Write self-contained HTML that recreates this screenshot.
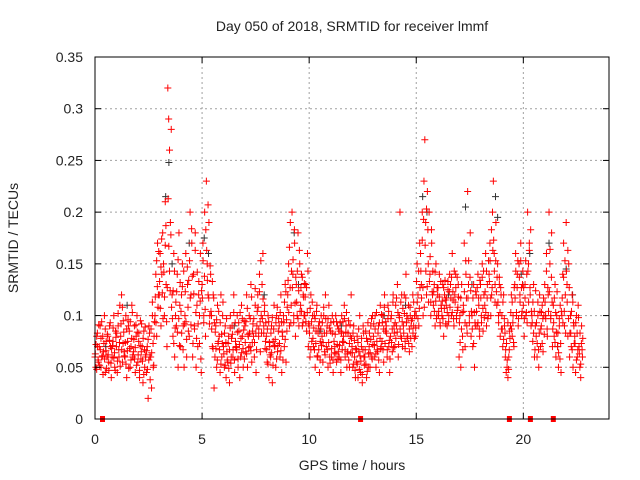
<!DOCTYPE html>
<html><head><meta charset="utf-8"><style>
html,body{margin:0;padding:0;background:#fff}
svg{display:block;font-family:"Liberation Sans",sans-serif}
</style></head><body>
<svg id="chart" width="640" height="480">
<text x="352" y="31" text-anchor="middle" font-size="14" fill="#222">Day 050 of 2018, SRMTID for receiver lmmf</text>
<text x="352" y="470" text-anchor="middle" font-size="14" fill="#222">GPS time / hours</text>
<text transform="translate(18,238) rotate(-90)" text-anchor="middle" font-size="14" fill="#222">SRMTID / TECUs</text>
<g id="grid"></g><g id="black"></g><g id="red"></g><g id="axes"></g>
</svg>
<script>
const xTicks=[0,5,10,15,20];
const yTicks=[0,0.05,0.1,0.15,0.2,0.25,0.3,0.35];
const yTickLabels=["0","0.05","0.1","0.15","0.2","0.25","0.3","0.35"];
const stepStarts=[];for(let i=0;i<114;i++)stepStarts.push(+(i*0.2).toFixed(1));
const redVals=[
[.06,.05,.08,.07,.055],[.07,.09,.05,.06,.08],[.065,.1,.045,.075,.06],[.08,.055,.09,.07,.04],[.06,.075,.1,.05,.085],
[.07,.045,.09,.06,.11],[.08,.12,.055,.095,.065],[.06,.1,.04,.075,.09],[.085,.05,.07,.11,.06],[.065,.09,.045,.08,.1],
[.055,.075,.04,.095,.065],[.07,.035,.085,.05,.06],[.045,.07,.02,.09,.06],[.06,.03,.1,.05,.08],[.1,.14,.08,.17,.12],
[.12,.16,.09,.14,.18],[.15,.1,.21,.13,.07],[.32,.29,.26,.19,.28],[.12,.08,.16,.06,.1],[.09,.14,.05,.18,.11],
[.07,.12,.15,.09,.05],[.1,.16,.06,.13,.085],[.08,.2,.12,.17,.06],[.14,.09,.18,.05,.11],[.07,.12,.1,.16,.045],
[.13,.17,.1,.2,.08],[.23,.15,.12,.19,.1],[.14,.1,.07,.12,.03],[.06,.09,.05,.11,.075],[.08,.045,.12,.06,.1],
[.07,.05,.09,.04,.065],[.055,.08,.035,.1,.06],[.09,.06,.12,.045,.075],[.07,.1,.05,.085,.04],[.06,.11,.08,.05,.095],
[.09,.065,.12,.05,.08],[.1,.07,.13,.055,.085],[.08,.06,.11,.045,.09],[.12,.08,.14,.065,.1],[.13,.16,.09,.11,.075],
[.08,.055,.1,.04,.07],[.06,.09,.035,.075,.11],[.07,.05,.1,.065,.085],[.09,.06,.12,.045,.08],[.1,.07,.13,.055,.085],
[.12,.15,.09,.19,.11],[.2,.14,.1,.17,.08],[.13,.1,.18,.09,.15],[.11,.14,.09,.12,.1],[.1,.13,.085,.16,.07],
[.09,.06,.12,.075,.1],[.07,.1,.05,.085,.11],[.06,.09,.045,.075,.1],[.08,.055,.1,.065,.12],[.07,.09,.05,.11,.06],
[.085,.06,.1,.045,.075],[.07,.1,.055,.09,.065],[.06,.085,.045,.1,.075],[.08,.11,.06,.09,.05],[.065,.095,.05,.08,.12],
[.07,.05,.09,.06,.04],[.055,.08,.04,.065,.1],[.045,.07,.035,.09,.06],[.06,.085,.04,.075,.05],[.07,.05,.09,.06,.1],
[.08,.06,.1,.05,.075],[.065,.09,.045,.11,.07],[.075,.1,.055,.12,.085],[.09,.06,.11,.07,.045],[.08,.1,.065,.12,.09],
[.07,.11,.09,.13,.06],[.1,.2,.08,.12,.07],[.09,.12,.075,.14,.1],[.08,.11,.065,.1,.09],[.07,.12,.09,.1,.08],
[.1,.15,.12,.09,.17],[.16,.13,.2,.1,.23],[.27,.19,.12,.22,.15],[.2,.14,.1,.17,.12],[.11,.13,.09,.15,.1],
[.12,.1,.14,.09,.11],[.1,.13,.08,.12,.115],[.11,.09,.125,.1,.14],[.13,.1,.16,.115,.09],[.12,.14,.1,.105,.13],
[.06,.1,.05,.13,.08],[.11,.17,.07,.14,.09],[.22,.13,.1,.18,.08],[.1,.07,.13,.05,.09],[.12,.09,.14,.11,.08],
[.13,.1,.15,.085,.12],[.11,.16,.09,.13,.1],[.14,.17,.1,.12,.2],[.23,.16,.13,.19,.11],[.15,.1,.13,.08,.12],
[.1,.07,.12,.09,.06],[.045,.05,.04,.06,.085],[.09,.12,.08,.1,.07],[.13,.16,.1,.14,.09],[.15,.12,.17,.1,.13],
[.11,.08,.13,.1,.14],[.2,.15,.17,.12,.09],[.1,.075,.13,.06,.09],[.08,.06,.1,.05,.12],[.07,.09,.11,.065,.1],
[.13,.1,.16,.08,.12],[.2,.15,.1,.18,.07],[.11,.08,.13,.06,.1],[.07,.05,.09,.11,.045],[.1,.14,.17,.09,.12],
[.19,.13,.08,.15,.06],[.1,.07,.12,.05,.09],[.08,.045,.1,.06,.11],[.07,.05,.04,.09,.06]];
const redVals2=[
[.063,.072,.048,.083,.057,.091],[.052,.067,.078,.094,.061,.043],[.073,.058,.087,.066,.049,.082],[.062,.047,.076,.093,.054,.068],[.071,.088,.059,.064,.047,.079],
[.083,.056,.102,.067,.074,.051],[.092,.067,.108,.073,.084,.061],[.074,.053,.087,.066,.096,.049],[.068,.094,.057,.078,.103,.062],[.077,.058,.069,.091,.052,.084],
[.062,.083,.047,.071,.058,.092],[.056,.078,.043,.067,.089,.062],[.066,.048,.077,.057,.083,.038],[.087,.064,.113,.073,.052,.094],[.118,.093,.153,.128,.108,.162],
[.133,.107,.147,.174,.122,.097],[.142,.118,.168,.187,.094,.127],[.213,.167,.143,.124,.178,.108],[.097,.124,.073,.143,.088,.113],[.123,.084,.154,.097,.071,.132],
[.104,.083,.128,.067,.143,.092],[.123,.094,.077,.147,.108,.134],[.153,.117,.091,.184,.138,.073],[.121,.087,.163,.103,.078,.142],[.092,.133,.073,.114,.058,.124],
[.117,.153,.093,.138,.106,.183],[.163,.134,.207,.117,.092,.148],[.104,.087,.133,.068,.117,.093],[.084,.068,.096,.057,.073,.104],[.067,.093,.053,.082,.073,.113],
[.063,.083,.052,.074,.097,.057],[.073,.049,.067,.088,.054,.078],[.082,.067,.103,.057,.093,.069],[.067,.084,.058,.093,.072,.103],[.078,.064,.097,.068,.086,.058],
[.074,.094,.063,.107,.082,.069],[.083,.097,.066,.118,.074,.092],[.097,.074,.126,.083,.067,.104],[.108,.087,.123,.094,.153,.083],[.097,.116,.083,.104,.068,.093],
[.067,.087,.053,.094,.074,.062],[.083,.064,.098,.052,.087,.071],[.077,.093,.058,.108,.071,.097],[.073,.103,.066,.094,.084,.057],[.093,.113,.077,.123,.096,.108],
[.134,.103,.166,.127,.093,.143],[.127,.154,.093,.183,.112,.137],[.113,.143,.097,.124,.163,.104],[.127,.104,.137,.093,.118,.131],[.118,.094,.127,.103,.143,.092],
[.083,.107,.067,.094,.113,.078],[.088,.067,.097,.073,.104,.061],[.083,.067,.094,.057,.087,.071],[.093,.074,.108,.083,.062,.097],[.083,.067,.097,.074,.088,.054],
[.093,.068,.083,.057,.094,.064],[.082,.063,.094,.072,.058,.087],[.071,.093,.057,.083,.067,.094],[.074,.097,.067,.084,.103,.063],[.083,.057,.073,.091,.064,.078],
[.064,.083,.053,.076,.047,.068],[.067,.053,.074,.087,.048,.061],[.056,.078,.043,.067,.083,.052],[.067,.053,.078,.046,.093,.063],[.083,.064,.077,.097,.058,.072],
[.092,.071,.087,.063,.103,.067],[.083,.057,.093,.078,.068,.101],[.093,.067,.087,.108,.073,.094],[.083,.067,.097,.104,.076,.058],[.097,.074,.087,.113,.069,.083],
[.093,.078,.117,.084,.103,.072],[.098,.087,.113,.078,.094,.107],[.083,.102,.068,.117,.093,.078],[.097,.073,.087,.108,.078,.095],[.097,.083,.113,.078,.104,.088],
[.133,.113,.097,.143,.107,.127],[.143,.117,.173,.127,.193,.108],[.168,.143,.203,.128,.183,.113],[.133,.157,.113,.183,.123,.143],[.123,.104,.142,.114,.097,.127],
[.127,.104,.118,.093,.133,.107],[.114,.097,.127,.107,.134,.092],[.117,.103,.133,.094,.123,.108],[.117,.137,.103,.123,.097,.143],[.113,.127,.097,.137,.108,.118],
[.093,.074,.117,.087,.103,.067],[.104,.123,.093,.153,.117,.083],[.117,.153,.093,.137,.124,.104],[.087,.117,.073,.103,.093,.123],[.104,.127,.093,.117,.087,.134],
[.117,.093,.137,.107,.143,.098],[.123,.103,.143,.117,.097,.153],[.133,.153,.117,.183,.127,.163],[.173,.143,.113,.153,.123,.137],[.113,.093,.137,.103,.127,.087],
[.087,.113,.077,.097,.083,.067],[.073,.057,.093,.048,.067,.078],[.103,.087,.113,.093,.074,.127],[.117,.143,.103,.127,.153,.097],[.137,.113,.153,.127,.104,.143],
[.127,.097,.117,.153,.103,.093],[.143,.113,.163,.127,.183,.104],[.093,.113,.083,.104,.067,.124],[.093,.073,.113,.067,.083,.104],[.087,.103,.073,.097,.117,.082],
[.113,.097,.143,.087,.127,.104],[.123,.164,.097,.137,.113,.087],[.093,.117,.074,.103,.084,.123],[.083,.064,.097,.058,.073,.104],[.117,.093,.137,.104,.153,.083],
[.143,.113,.163,.097,.127,.083],[.083,.104,.067,.113,.093,.073],[.073,.093,.057,.083,.067,.098],[.063,.083,.053,.073,.067,.078]];
const blackT=[0.5,1.5,3.3,3.45,3.6,4.4,5.1,5.3,6.5,7.9,9.3,9.5,10.5,11.5,13.5,14.5,15.3,15.5,16.5,17.3,17.6,18.7,18.8,19.9,20.3,21.2,21.6,22.0,22.3];
const blackV=[0.07,0.11,0.215,0.248,0.15,0.17,0.175,0.16,0.09,0.12,0.18,0.13,0.085,0.09,0.1,0.11,0.215,0.2,0.12,0.205,0.13,0.215,0.195,0.14,0.16,0.17,0.07,0.145,0.12];
const zeroT=[0.35,12.4,19.35,20.33,21.4];
const L=95,R=609,T=57,B=419,XMAX=24,YMAX=0.35;
const xs=t=>L+t/XMAX*(R-L), ys=v=>B-v/YMAX*(B-T);
const NS="http://www.w3.org/2000/svg";
function mk(tag,attrs,parent){const e=document.createElementNS(NS,tag);for(const k in attrs)e.setAttribute(k,attrs[k]);parent.appendChild(e);return e;}
const grid=document.getElementById('grid'),axes=document.getElementById('axes');
yTicks.forEach((v,i)=>{const y=ys(v);
 if(i>0&&i<yTicks.length-1){const g=mk('line',{x1:L,x2:R,y1:y,y2:y,stroke:'#a0a0a0','stroke-dasharray':'2,3'},grid);
 
 }
 mk('line',{x1:L,x2:L+6,y1:y,y2:y,stroke:'#000'},axes);mk('line',{x1:R,x2:R-6,y1:y,y2:y,stroke:'#000'},axes);
 const t=mk('text',{x:L-12,y:y+5,'text-anchor':'end','font-size':14,fill:'#222'},axes);t.textContent=yTickLabels[i];
 
 });
xTicks.forEach(v=>{const x=xs(v);
 if(v>0){const g=mk('line',{x1:x,x2:x,y1:T,y2:B,stroke:'#a0a0a0','stroke-dasharray':'2,3'},grid);
 
 }
 mk('line',{x1:x,x2:x,y1:B,y2:B-6,stroke:'#000'},axes);mk('line',{x1:x,x2:x,y1:T,y2:T+6,stroke:'#000'},axes);
 const t=mk('text',{x:x,y:B+25,'text-anchor':'middle','font-size':14,fill:'#222'},axes);t.textContent=v;
 
 });
const frame=mk('rect',{x:L,y:T,width:R-L,height:B-T,fill:'none',stroke:'#000','stroke-width':1},axes);


function plus(g,t,v,col){const x=xs(t),y=ys(v);
 const p=mk('path',{d:`M${x-3.5},${y}h7M${x},${y-3.5}v7`,stroke:col,'stroke-width':1,fill:'none'},g);return p;}
const blackG=document.getElementById('black'),redG=document.getElementById('red');
blackT.forEach((t,i)=>{const p=plus(blackG,t,blackV[i],'#333');
 
 });
stepStarts.forEach((s,i)=>{redVals[i].forEach((v,k)=>{const p=plus(redG,s+k*0.04,v,'#f00');
 
 });
 redVals2[i].forEach((v,k)=>{const p=plus(redG,s+0.015+k*0.032,v,'#f00');
 
 });});
zeroT.forEach(t=>{const r=mk('rect',{x:xs(t)-2.5,y:B-3,width:5,height:6,fill:'#f00'},redG);
 
 });
</script>
</body></html>
